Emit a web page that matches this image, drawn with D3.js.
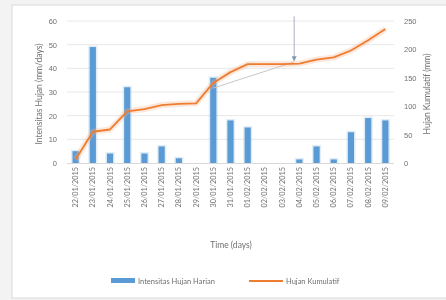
<!DOCTYPE html>
<html>
<head>
<meta charset="utf-8">
<script src="https://cdn.jsdelivr.net/npm/d3@7"></script>
<style>
  body { margin: 0; background: #f3f3f3; }
  svg { display: block; font-family: Lato, "Open Sans", sans-serif; filter: blur(0.35px); }
</style>
</head>
<body>
<div id="chart"></div>
<script>
const width = 446;
const height = 300;

// data
const dates = ["22/01/2015", "23/01/2015", "24/01/2015", "25/01/2015", "26/01/2015",
  "27/01/2015", "28/01/2015", "29/01/2015", "30/01/2015", "31/01/2015", "01/02/2015",
  "02/02/2015", "03/02/2015", "04/02/2015", "05/02/2015", "06/02/2015", "07/02/2015",
  "08/02/2015", "09/02/2015"];
const harian = [5, 49, 4, 32, 4, 7, 2, 0, 36, 18, 15, 0, 0, 1.5, 7, 1.5, 13, 19, 18];
const kumulatif = [6, 55, 59, 91, 95, 102, 104, 105, 141, 160, 174, 174, 174, 175, 182, 186, 198, 216, 236];
const leftTicks = [0, 10, 20, 30, 40, 50, 60];
const rightTicks = [0, 50, 100, 150, 200, 250];
// grey annotation: guide line and arrow (x = category index, y = mm)
const guide = [[8, 132], [12.7, 178]];
const arrow = [[12.7, 258], [12.7, 180]];

const plot = { left: 67, right: 394, top: 21, bottom: 163 };
const textColor = "#707070";

const svg = d3.select("#chart").append("svg")
  .attr("width", width)
  .attr("height", height);

// chart area
svg.append("rect")
  .attr("x", 12).attr("y", 5)
  .attr("width", 440).attr("height", 293)
  .attr("fill", "#fff")
  .attr("stroke", "#d9d9d9");

const x = d3.scaleBand().domain(dates).range([plot.left, plot.right]).paddingInner(0.64).paddingOuter(0.32);
const xi = d3.scaleLinear().domain([0, dates.length - 1]).range([x(dates[0]) + x.bandwidth() / 2, x(dates[dates.length - 1]) + x.bandwidth() / 2]);
const yL = d3.scaleLinear().domain([0, 60]).range([plot.bottom, plot.top]);
const yR = d3.scaleLinear().domain([0, 250]).range([plot.bottom, plot.top]);

// gridlines
svg.append("g")
  .selectAll("line")
  .data(leftTicks.slice(1))
  .join("line")
  .attr("x1", plot.left).attr("x2", plot.right)
  .attr("y1", d => yL(d)).attr("y2", d => yL(d))
  .attr("stroke", "#e8e8e8").attr("stroke-width", 1);

// left axis
const axL = svg.append("g")
  .attr("transform", `translate(${plot.left - 6},0)`)
  .call(d3.axisLeft(yL).tickValues(leftTicks).tickSize(0).tickPadding(4));
axL.select(".domain").remove();
axL.selectAll("text").attr("fill", textColor).attr("font-size", 7.5);

// right axis
const axR = svg.append("g")
  .attr("transform", `translate(${plot.right + 6},0)`)
  .call(d3.axisRight(yR).tickValues(rightTicks).tickSize(0).tickPadding(4));
axR.select(".domain").remove();
axR.selectAll("text").attr("fill", textColor).attr("font-size", 7.5);

// x axis line
svg.append("line")
  .attr("x1", plot.left).attr("x2", plot.right)
  .attr("y1", plot.bottom + 0.5).attr("y2", plot.bottom + 0.5)
  .attr("stroke", "#d9d9d9");

// x tick labels (rotated)
svg.append("g")
  .selectAll("text")
  .data(dates)
  .join("text")
  .attr("transform", d => `translate(${x(d) + x.bandwidth() / 2 + 2.5},${plot.bottom + 4}) rotate(-90)`)
  .attr("text-anchor", "end")
  .attr("fill", textColor)
  .attr("font-size", 7.3)
  .text(d => d);

// bars with soft glow
const bars = svg.append("g");
bars.selectAll("rect.glow")
  .data(harian)
  .join("rect")
  .attr("class", "glow")
  .attr("x", (d, i) => x(dates[i]) - 1.5)
  .attr("width", x.bandwidth() + 3)
  .attr("y", d => yL(d) - 1.5)
  .attr("height", d => d > 0 ? plot.bottom - yL(d) + 1.5 : 0)
  .attr("fill", "#5b9bd5").attr("opacity", 0.18);
bars.selectAll("rect.bar")
  .data(harian)
  .join("rect")
  .attr("class", "bar")
  .attr("x", (d, i) => x(dates[i]))
  .attr("width", x.bandwidth())
  .attr("y", d => yL(d))
  .attr("height", d => plot.bottom - yL(d))
  .attr("fill", "#5b9bd5");

// grey guide line and arrow
svg.append("path")
  .attr("d", d3.line().x(d => xi(d[0])).y(d => yR(d[1]))(guide))
  .attr("fill", "none").attr("stroke", "#c8c8c8").attr("stroke-width", 1);

svg.append("defs").append("marker")
  .attr("id", "arrowhead")
  .attr("viewBox", "0 0 10 10")
  .attr("refX", 9).attr("refY", 5)
  .attr("markerWidth", 5).attr("markerHeight", 5)
  .attr("orient", "auto")
  .append("path")
  .attr("d", "M0,0L10,5L0,10z")
  .attr("fill", "#7f97b2");
svg.append("path")
  .attr("d", d3.line().x(d => xi(d[0])).y(d => yR(d[1]))(arrow))
  .attr("stroke", "#a8b0bc").attr("stroke-width", 1)
  .attr("marker-end", "url(#arrowhead)");

// cumulative line
const line = d3.line().x((d, i) => xi(i)).y(d => yR(d));
svg.append("path")
  .attr("d", line(kumulatif))
  .attr("fill", "none").attr("stroke", "#f4b183")
  .attr("stroke-width", 6).attr("stroke-opacity", 0.3)
  .attr("stroke-linejoin", "round");
svg.append("path")
  .attr("d", line(kumulatif))
  .attr("fill", "none").attr("stroke", "#ed7d31")
  .attr("stroke-width", 1.8)
  .attr("stroke-linejoin", "round");

// axis titles
svg.append("text")
  .attr("transform", `translate(42,${(plot.top + plot.bottom) / 2 + 2}) rotate(-90)`)
  .attr("text-anchor", "middle")
  .attr("fill", textColor).attr("font-size", 8.5)
  .text("Intensitas Hujan (mm/days)");
svg.append("text")
  .attr("transform", `translate(430,${(plot.top + plot.bottom) / 2 + 2}) rotate(-90)`)
  .attr("text-anchor", "middle")
  .attr("fill", textColor).attr("font-size", 8.5)
  .text("Hujan Kumulatif (mm)");
svg.append("text")
  .attr("x", 231).attr("y", 248)
  .attr("text-anchor", "middle")
  .attr("fill", textColor).attr("font-size", 8.5)
  .text("Time (days)");

// legend
const legend = svg.append("g").attr("transform", "translate(0,281)");
legend.append("rect")
  .attr("x", 111).attr("y", -3).attr("width", 24).attr("height", 5)
  .attr("fill", "#5b9bd5");
legend.append("text")
  .attr("x", 138).attr("y", 3)
  .attr("fill", textColor).attr("font-size", 7.5)
  .text("Intensitas Hujan Harian");
legend.append("line")
  .attr("x1", 249).attr("x2", 283).attr("y1", 0).attr("y2", 0)
  .attr("stroke", "#ed7d31").attr("stroke-width", 1.8);
legend.append("text")
  .attr("x", 286).attr("y", 3)
  .attr("fill", textColor).attr("font-size", 7.5)
  .text("Hujan Kumulatif");
</script>
</body>
</html>
